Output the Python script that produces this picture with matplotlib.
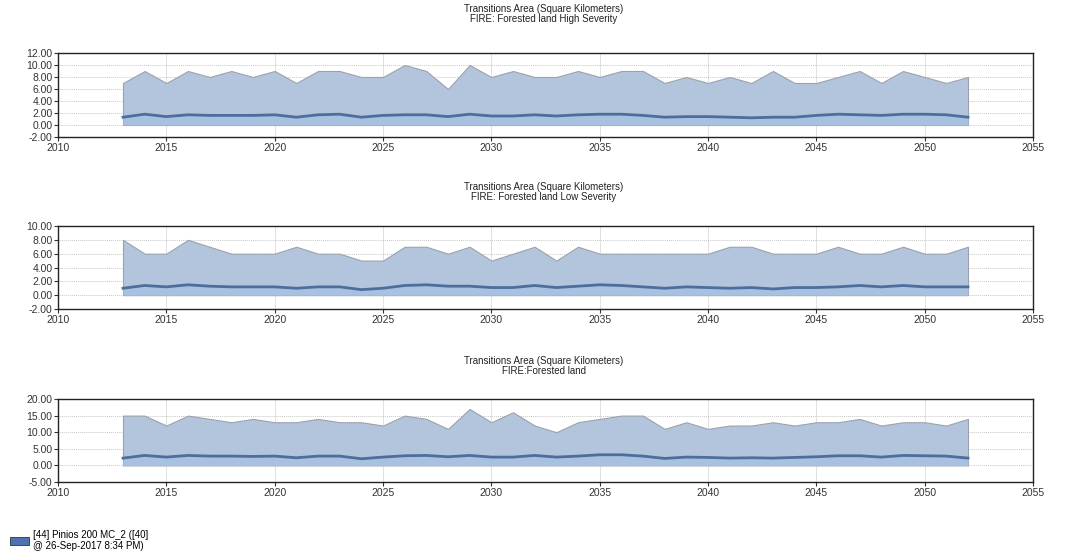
import numpy as np
import matplotlib.pyplot as plt
from matplotlib.patches import Patch
from matplotlib.ticker import FormatStrFormatter

plt.rcParams['font.family'] = ['Liberation Sans', 'DejaVu Sans']

years = np.arange(2013, 2053)

#High severity: max of runs and mean
high_max = [7, 9, 7, 9, 8, 9, 8, 9, 7, 9, 9, 8, 8, 10, 9, 6, 10, 8, 9, 8,
            8, 9, 8, 9, 9, 7, 8, 7, 8, 7, 9, 7, 7, 8, 9, 7, 9, 8, 7, 8]
high_mean = [1.3, 1.8, 1.4, 1.7, 1.6, 1.6, 1.6, 1.7, 1.3, 1.7, 1.8, 1.3, 1.6, 1.7,
             1.7, 1.4, 1.8, 1.5, 1.5, 1.7, 1.5, 1.7, 1.8, 1.8, 1.6, 1.3, 1.4, 1.4,
             1.3, 1.2, 1.3, 1.3, 1.6, 1.8, 1.7, 1.6, 1.8, 1.8, 1.7, 1.3]

#Low severity
low_max = [8, 6, 6, 8, 7, 6, 6, 6, 7, 6, 6, 5, 5, 7, 7, 6, 7, 5, 6, 7,
           5, 7, 6, 6, 6, 6, 6, 6, 7, 7, 6, 6, 6, 7, 6, 6, 7, 6, 6, 7]
low_mean = [1.0, 1.4, 1.2, 1.5, 1.3, 1.2, 1.2, 1.2, 1.0, 1.2, 1.2, 0.8, 1.0, 1.4,
            1.5, 1.3, 1.3, 1.1, 1.1, 1.4, 1.1, 1.3, 1.5, 1.4, 1.2, 1.0, 1.2, 1.1,
            1.0, 1.1, 0.9, 1.1, 1.1, 1.2, 1.4, 1.2, 1.4, 1.2, 1.2, 1.2]

#All forested land
all_max = [15, 15, 12, 15, 14, 13, 14, 13, 13, 14, 13, 13, 12, 15, 14, 11, 17, 13, 16, 12,
           10, 13, 14, 15, 15, 11, 13, 11, 12, 12, 13, 12, 13, 13, 14, 12, 13, 13, 12, 14]
all_mean = [2.2, 3.0, 2.5, 3.0, 2.8, 2.8, 2.7, 2.8, 2.3, 2.8, 2.8, 2.0, 2.5, 2.9,
            3.0, 2.6, 3.0, 2.5, 2.5, 3.0, 2.5, 2.8, 3.2, 3.2, 2.8, 2.1, 2.5, 2.4,
            2.2, 2.3, 2.2, 2.4, 2.6, 2.9, 2.9, 2.5, 3.0, 2.9, 2.8, 2.2]

titles = ['Transitions Area (Square Kilometers)\nFIRE: Forested land High Severity',
          'Transitions Area (Square Kilometers)\nFIRE: Forested land Low Severity',
          'Transitions Area (Square Kilometers)\nFIRE:Forested land']
ylims = [(-2, 12), (-2, 10), (-5, 20)]
ysteps = [2, 2, 5]
legend_text = '[44] Pinios 200 MC_2 ([40]\n@ 26-Sep-2017 8:34 PM)'

W, H = 1078, 559
fig = plt.figure(figsize=(W / 100, H / 100), dpi=100)
# axes boxes in pixels: left, top, right, bottom
boxes = [(58, 53, 1033, 137), (58, 226, 1033, 309), (58, 399, 1033, 482)]
title_tops = [4, 182, 356]

series = [(high_max, high_mean), (low_max, low_mean), (all_max, all_mean)]
for (mx, mean), box, tt, title, ylim, step in zip(series, boxes, title_tops, titles, ylims, ysteps):
    l, t, r, b = box
    ax = fig.add_axes([l / W, 1 - b / H, (r - l) / W, (b - t) / H])
    ax.fill_between(years, 0, mx, color='#b3c5dc', edgecolor='#9aa3ad', linewidth=0.8, zorder=2)
    ax.fill_between(years, 0, mean, color='#a9c1e0', linewidth=0, zorder=2)
    ax.plot(years, mean, color='#4d6e9c', linewidth=2, zorder=3)
    ax.set_xlim(2010, 2055)
    ax.set_ylim(*ylim)
    ax.set_xticks(np.arange(2010, 2056, 5))
    ax.set_yticks(np.arange(ylim[0], ylim[1] + 0.1, step))
    ax.yaxis.set_major_formatter(FormatStrFormatter('%.2f'))
    ax.grid(axis='y', color='#c8c8c8', linestyle=(0, (1, 1)), linewidth=0.7, zorder=1)
    ax.grid(axis='x', color='#dcdcdc', linestyle='-', linewidth=0.6, zorder=1)
    ax.set_axisbelow(True)
    ax.tick_params(axis='both', labelsize=7.5, length=3, width=0.8, pad=1, colors='#333333')
    for s in ax.spines.values():
        s.set_color('#222222')
        s.set_linewidth(1.0)
    fig.text(544 / W, 1 - tt / H, title, ha='center', va='top', fontsize=7,
             linespacing=1.05, color='#222222')

fig.legend(handles=[Patch(facecolor='#4f72b0', edgecolor='#333333', linewidth=0.6)],
           labels=[legend_text], loc='lower left', bbox_to_anchor=(0.002, 0.0),
           frameon=False, fontsize=7, handlelength=2.0, handleheight=1.0,
           handletextpad=0.4, borderpad=0.3)

fig.savefig('out.png', dpi=100)
